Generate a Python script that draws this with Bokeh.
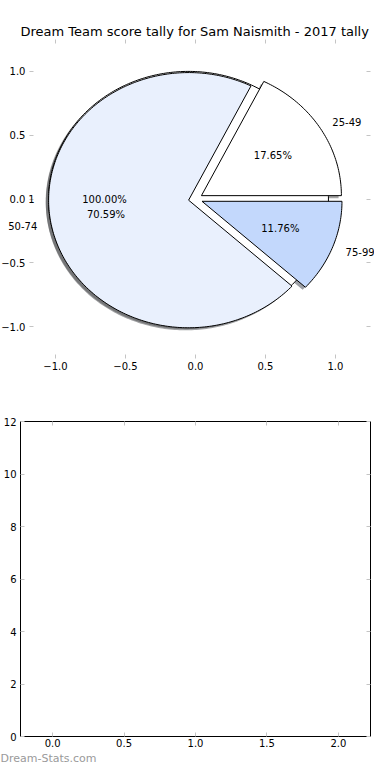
import numpy as np
from bokeh.plotting import figure
from bokeh.models import (ColumnDataSource, LabelSet, LinearAxis, FixedTicker,
                          Range1d, Title, CustomJSTickFormatter)
from bokeh.layouts import column
from bokeh.core.properties import value
from bokeh.embed import file_html
from bokeh.resources import INLINE

# ---------------- data ----------------
title_text = "Dream Team score tally for Sam Naismith - 2017 tally"
pie1_labels = ["1"]
pie1_values = [1]
pie2_labels = ["25-49", "50-74", "75-99"]
pie2_values = [3, 12, 2]
slice_colors = ["#ffffff", "#e9f0fd", "#c3d8fc"]
pie_ticks = [-1.0, -0.5, 0.0, 0.5, 1.0]
pie_tick_labels = ["\u22121.0", "\u22120.5", "0.0", "0.5", "1.0"]
pie_limits = (-1.25, 1.25)
bar_x_ticks = [0.0, 0.5, 1.0, 1.5, 2.0]
bar_x_labels = ["0.0", "0.5", "1.0", "1.5", "2.0"]
bar_y_ticks = [0, 2, 4, 6, 8, 10, 12]
bar_y_labels = ["0", "2", "4", "6", "8", "10", "12"]
watermark = "Dream-Stats.com"

EXPLODE = 0.05
SHADOW_DX, SHADOW_DY = -0.02, -0.02
FONT = "DejaVu Sans"
TICK_COLOR = "#c4c4c4"


def pie_geometry(values, colors):
    vals = np.asarray(values, dtype=float)
    frac = vals / vals.sum()
    t2 = np.cumsum(frac) * 2 * np.pi
    t1 = t2 - frac * 2 * np.pi
    out = dict(xs=[], ys=[], sxs=[], sys=[], color=[], shadow=[],
               lx=[], ly=[], px=[], py=[], pct=[])
    for a, b, f, c in zip(t1, t2, frac, colors):
        mid = (a + b) / 2
        cx, cy = EXPLODE * np.cos(mid), EXPLODE * np.sin(mid)
        ang = np.linspace(a, b, max(int(f * 360), 8))
        xs = list(cx + np.cos(ang))
        ys = list(cy + np.sin(ang))
        if f < 0.9999:
            xs = [cx] + xs
            ys = [cy] + ys
        out["xs"].append(xs)
        out["ys"].append(ys)
        out["sxs"].append([x + SHADOW_DX for x in xs])
        out["sys"].append([y + SHADOW_DY for y in ys])
        out["color"].append(c)
        rgb = np.array([int(c[i:i + 2], 16) for i in (1, 3, 5)]) * 0.3
        out["shadow"].append("#%02x%02x%02x" % tuple(int(v) for v in rgb))
        out["lx"].append(cx + 1.1 * np.cos(mid))
        out["ly"].append(cy + 1.1 * np.sin(mid))
        out["px"].append(cx + 0.6 * np.cos(mid))
        out["py"].append(cy + 0.6 * np.sin(mid))
        out["pct"].append("%.2f%%" % (f * 100))
    return out


def style_axis(ax, size="10px"):
    ax.axis_line_color = None
    ax.major_tick_in = 4
    ax.major_tick_out = 0
    ax.minor_tick_in = 0
    ax.minor_tick_out = 0
    ax.minor_tick_line_color = None
    ax.major_tick_line_color = TICK_COLOR
    ax.major_label_text_font = FONT
    ax.major_label_text_font_size = size
    ax.major_label_text_color = "#000000"


empty_fmt = CustomJSTickFormatter(code="return ''")

# ---------------- top: pie ----------------
# frame spans the full width so that the outer slice labels are not clipped;
# the axes box of the pie is drawn with fixed-location axes
p1 = figure(width=374, height=396, x_range=Range1d(-1.393, 1.279),
            y_range=Range1d(*pie_limits), output_backend="svg",
            toolbar_location=None, min_border_left=0, min_border_right=0,
            min_border_top=39, min_border_bottom=38)
p1.frame_align = False
p1.outline_line_color = None
p1.xgrid.grid_line_color = None
p1.ygrid.grid_line_color = None

p1.title.text = title_text
p1.title.align = "left"
p1.title.offset = 20
p1.title.text_font = FONT
p1.title.text_font_size = "13px"
p1.title.text_font_style = "normal"
p1.title.text_color = "#000000"
p1.title.standoff = 2

p1.xaxis.ticker = FixedTicker(ticks=pie_ticks)
p1.xaxis.major_label_overrides = dict(zip(pie_ticks, pie_tick_labels))
p1.xaxis.major_label_standoff = 3
style_axis(p1.xaxis[0])
p1.yaxis.ticker = FixedTicker(ticks=pie_ticks)
p1.yaxis.major_label_overrides = dict(zip(pie_ticks, pie_tick_labels))
p1.yaxis.major_label_standoff = 4
p1.yaxis.fixed_location = -1.186
style_axis(p1.yaxis[0])
ax_top1 = LinearAxis(ticker=FixedTicker(ticks=pie_ticks), formatter=empty_fmt,
                     major_label_standoff=0)
style_axis(ax_top1)
p1.add_layout(ax_top1, "above")
ax_right1 = LinearAxis(ticker=FixedTicker(ticks=pie_ticks), formatter=empty_fmt,
                       major_label_standoff=0, fixed_location=pie_limits[1])
style_axis(ax_right1)
p1.add_layout(ax_right1, "right")

g1 = pie_geometry(pie1_values, slice_colors[:1])
g2 = pie_geometry(pie2_values, slice_colors)

# shadows first (lower zorder)
for g in (g1, g2):
    p1.patches(xs=g["sxs"], ys=g["sys"], fill_color=g["shadow"],
               fill_alpha=0.5, line_color=None)
for g in (g1, g2):
    p1.patches(xs=g["xs"], ys=g["ys"], fill_color=g["color"],
               line_color="#000000", line_width=1, line_join="miter")

for g, labels in ((g1, pie1_labels), (g2, pie2_labels)):
    right = [i for i, x in enumerate(g["lx"]) if x > 0]
    left = [i for i, x in enumerate(g["lx"]) if x <= 0]
    for idx, align in ((right, "left"), (left, "right")):
        if not idx:
            continue
        src = ColumnDataSource(dict(x=[g["lx"][i] for i in idx],
                                    y=[g["ly"][i] for i in idx],
                                    t=[labels[i] for i in idx]))
        p1.add_layout(LabelSet(x="x", y="y", text="t", source=src,
                               text_align=align, text_baseline="middle",
                               text_font=value(FONT), text_font_size="10px",
                               text_color="#000000"))
    psrc = ColumnDataSource(dict(x=g["px"], y=g["py"], t=g["pct"]))
    p1.add_layout(LabelSet(x="x", y="y", text="t", source=psrc,
                           text_align="center", text_baseline="middle",
                           text_font=value(FONT), text_font_size="10px",
                           text_color="#000000"))

# ---------------- bottom: empty chart ----------------
p2 = figure(width=374, height=368, x_range=Range1d(-0.225, 2.225),
            y_range=Range1d(0, 12), output_backend="svg",
            toolbar_location=None, min_border_left=20, min_border_right=4,
            min_border_top=25, min_border_bottom=26)
p2.frame_align = False
p2.outline_line_color = "#000000"
p2.outline_line_width = 1
p2.xgrid.grid_line_color = None
p2.ygrid.grid_line_color = None
p2.xaxis.ticker = FixedTicker(ticks=bar_x_ticks)
p2.xaxis.major_label_overrides = dict(zip(bar_x_ticks, bar_x_labels))
p2.xaxis.major_label_standoff = 2
style_axis(p2.xaxis[0])
p2.yaxis.ticker = FixedTicker(ticks=bar_y_ticks)
p2.yaxis.major_label_overrides = dict(zip(bar_y_ticks, bar_y_labels))
p2.yaxis.major_label_standoff = 4
style_axis(p2.yaxis[0])
ax_top = LinearAxis(ticker=FixedTicker(ticks=bar_x_ticks), formatter=empty_fmt,
                    major_label_standoff=0)
style_axis(ax_top)
p2.add_layout(ax_top, "above")
ax_right = LinearAxis(ticker=FixedTicker(ticks=bar_y_ticks), formatter=empty_fmt,
                      major_label_standoff=0)
style_axis(ax_right)
p2.add_layout(ax_right, "right")

wm = Title(text=watermark, align="left", offset=-20, text_font=FONT,
           text_font_size="11px", text_font_style="normal",
           text_color="#9a9a9a", standoff=0)
p2.add_layout(wm, "below")

layout = column(p1, p2, spacing=0)

open("out.html", "w").write(file_html(layout, INLINE))
